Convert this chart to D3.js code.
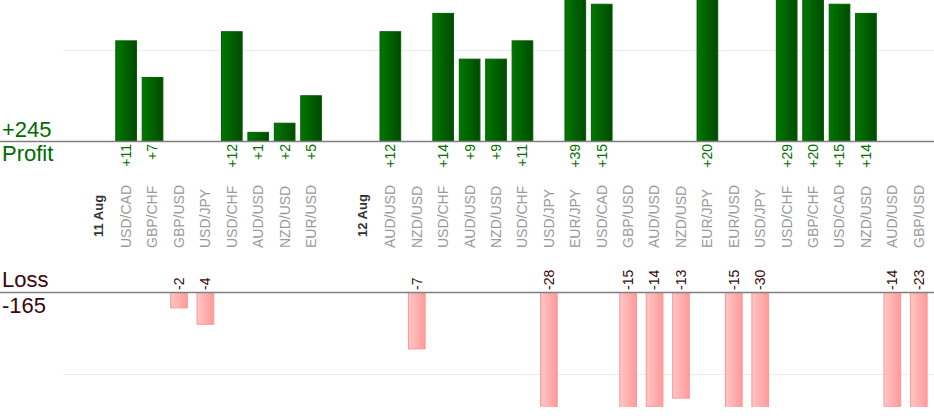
<!DOCTYPE html>
<html>
<head>
<meta charset="utf-8">
<script src="https://cdn.jsdelivr.net/npm/d3@7"></script>
<style>
  body { margin: 0; background: #fff; }
  svg { display: block; font-family: "Liberation Sans", Arial, sans-serif; }
</style>
</head>
<body>
<div id="chart"></div>
<script>
// slot labels along the x axis ('' = empty gap between days)
const slotLabels = ['11 Aug', 'USD/CAD', 'GBP/CHF', 'GBP/USD', 'USD/JPY', 'USD/CHF', 'AUD/USD', 'NZD/USD', 'EUR/USD',
    '', '12 Aug', 'AUD/USD', 'NZD/USD', 'USD/CHF', 'AUD/USD', 'NZD/USD', 'USD/CHF', 'USD/JPY', 'EUR/JPY',
    'USD/CAD', 'GBP/USD', 'AUD/USD', 'NZD/USD', 'EUR/JPY', 'EUR/USD', 'USD/JPY', 'USD/CHF', 'GBP/CHF',
    'USD/CAD', 'NZD/USD', 'AUD/USD', 'GBP/USD'];
const dayLabels = ['11 Aug', '12 Aug'];
// pips per trade, null for day / gap slots
const results = [null, 11, 7, -2, -4, 12, 1, 2, 5,
    null, null, 12, -7, 14, 9, 9, 11, -28, 39,
    15, -15, -14, -13, 20, -15, -30, 29, 20,
    15, 14, -14, -23];
const gridTicks = [10];

const width = 934, height = 420;
const profitBase = 141, lossBase = 292, lossClip = 407;

const svg = d3.select('#chart').append('svg')
    .attr('width', width).attr('height', height);

const defs = svg.append('defs');
const gp = defs.append('linearGradient').attr('id', 'gProfit');
gp.append('stop').attr('offset', '0%').attr('stop-color', '#007800');
gp.append('stop').attr('offset', '100%').attr('stop-color', '#004a00');
const gl = defs.append('linearGradient').attr('id', 'gLoss');
gl.append('stop').attr('offset', '0%').attr('stop-color', '#ffc6c6');
gl.append('stop').attr('offset', '100%').attr('stop-color', '#ff9a9a');
defs.append('clipPath').attr('id', 'lossClip')
    .append('rect').attr('x', 0).attr('y', lossBase).attr('width', width).attr('height', lossClip - lossBase);

const slots = slotLabels.map((label, i) => ({ i, label, v: results[i] }));

const x = d3.scaleBand().domain(d3.range(slots.length)).range([86.5, 932]).padding(0);
const bw = x.bandwidth();
const yP = d3.scaleLinear().domain([0, 10]).range([profitBase, profitBase - 91.5]);
const yL = d3.scaleLinear().domain([0, 10]).range([lossBase, lossBase + 82]);

// gridlines
svg.append('g').selectAll('line').data(gridTicks).join('line')
    .attr('x1', 63).attr('x2', width)
    .attr('y1', d => Math.round(yP(d)) + 0.5).attr('y2', d => Math.round(yP(d)) + 0.5)
    .attr('stroke', '#ececec');
svg.append('g').selectAll('line').data(gridTicks).join('line')
    .attr('x1', 63).attr('x2', width)
    .attr('y1', d => Math.round(yL(d)) + 0.5).attr('y2', d => Math.round(yL(d)) + 0.5)
    .attr('stroke', '#ececec');

const profits = slots.filter(d => d.v != null && d.v > 0);
const losses = slots.filter(d => d.v != null && d.v < 0);

// profit bars
const pw = bw * 0.82;
svg.append('g').selectAll('rect').data(profits).join('rect')
    .attr('x', d => x(d.i) + (bw - pw) / 2 + 0.5)
    .attr('y', d => yP(d.v) + 0.5)
    .attr('width', pw - 1)
    .attr('height', d => profitBase - yP(d.v) - 0.5)
    .attr('fill', 'url(#gProfit)')
    .attr('stroke', '#006000');

// loss bars
const lw = bw * 0.67;
svg.append('g').attr('clip-path', 'url(#lossClip)')
    .selectAll('rect').data(losses).join('rect')
    .attr('x', d => x(d.i) + (bw - lw) / 2 + 0.5)
    .attr('y', lossBase)
    .attr('width', lw - 1)
    .attr('height', d => yL(-d.v) - lossBase - 0.5)
    .attr('fill', 'url(#gLoss)')
    .attr('stroke', '#ff9696');

// axis lines
svg.append('line').attr('x1', 0).attr('x2', width)
    .attr('y1', profitBase + 0.5).attr('y2', profitBase + 0.5)
    .attr('stroke', '#808080').attr('stroke-width', 1.3);
svg.append('line').attr('x1', 0).attr('x2', width)
    .attr('y1', lossBase + 0.5).attr('y2', lossBase + 0.5)
    .attr('stroke', '#808080').attr('stroke-width', 1.3);

// value labels
const cx = d => x(d.i) + bw / 2;
svg.append('g').selectAll('text').data(profits).join('text')
    .attr('transform', d => `translate(${cx(d)},${profitBase + 3}) rotate(-90)`)
    .attr('dy', '0.35em')
    .attr('text-anchor', 'end')
    .attr('font-size', 14)
    .attr('fill', '#007000')
    .text(d => '+' + d.v);
svg.append('g').selectAll('text').data(losses).join('text')
    .attr('transform', d => `translate(${cx(d)},${lossBase - 2}) rotate(-90)`)
    .attr('dy', '0.35em')
    .attr('text-anchor', 'start')
    .attr('font-size', 14)
    .attr('fill', '#3a0808')
    .text(d => d.v);

// category labels
svg.append('g').selectAll('text').data(slots.filter(d => d.label)).join('text')
    .attr('transform', d => dayLabels.includes(d.label)
        ? `translate(${cx(d) - 1},237) rotate(-90)`
        : `translate(${cx(d)},248) rotate(-90)`)
    .attr('dy', '0.35em')
    .attr('text-anchor', 'start')
    .attr('font-size', d => dayLabels.includes(d.label) ? 13 : 14)
    .attr('font-weight', d => dayLabels.includes(d.label) ? 'bold' : 'normal')
    .attr('fill', d => dayLabels.includes(d.label) ? '#333' : '#9a9a9a')
    .text(d => d.label);

// totals
const totalProfit = d3.sum(profits, d => d.v);
const totalLoss = d3.sum(losses, d => d.v);
svg.append('text').attr('x', 2).attr('y', 137).attr('font-size', 22).attr('fill', '#006a00')
    .text('+' + totalProfit);
svg.append('text').attr('x', 2).attr('y', 161).attr('font-size', 22).attr('fill', '#006a00')
    .text('Profit');
svg.append('text').attr('x', 2).attr('y', 287).attr('font-size', 22).attr('fill', '#3a0808')
    .text('Loss');
svg.append('text').attr('x', 2).attr('y', 313).attr('font-size', 22).attr('fill', '#3a0808')
    .text(totalLoss);
</script>
</body>
</html>
